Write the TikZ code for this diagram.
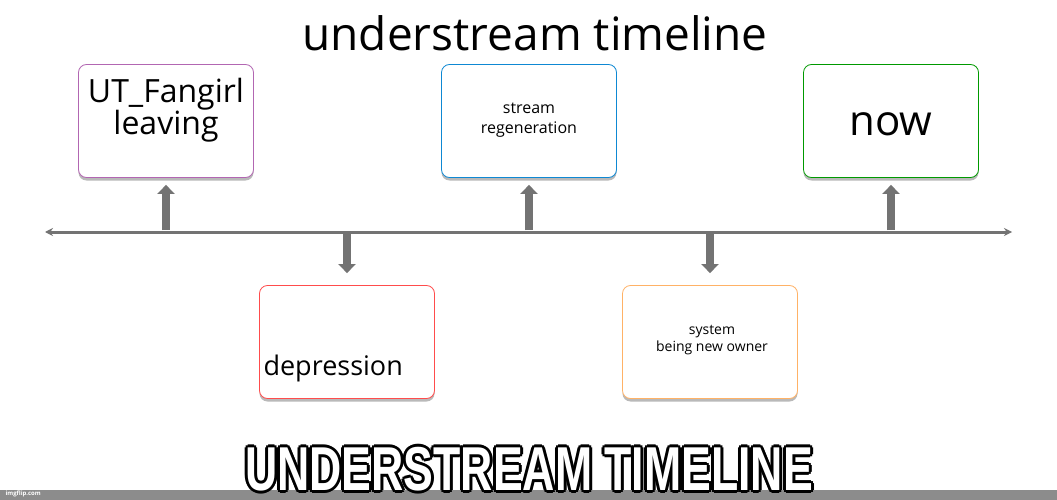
\documentclass[tikz,border=0pt]{standalone}
\usepackage{fontspec}
\setmainfont{Open Sans}
\newfontfamily\impactf{Liberation Sans}
\usetikzlibrary{arrows.meta}
\begin{document}
\begin{tikzpicture}[x=1pt,y=-1pt,
  ev/.style={draw=#1, line width=0.8pt, fill=white, rounded corners=8pt, minimum width=175pt, minimum height=113pt, inner sep=0pt},
  shadowbox/.style={fill=gray!55, rounded corners=8pt, minimum width=175pt, minimum height=113pt, inner sep=0pt},
  fat/.style={draw=gray!90!black, line width=8pt, -{Triangle[width=17pt,length=9pt]}},
  capfont/.style={font=\impactf\bfseries\fontsize{62}{62}\selectfont, inner sep=0pt, anchor=base}]
\useasboundingbox (0,0) rectangle (1057,500);
\fill[white] (0,0) rectangle (1057,500);
\fill[gray!90] (0,490) rectangle (1057,500);
\node[font=\fontsize{6}{6}\selectfont\bfseries, white, anchor=west] (wm) at (2,494) {imgflip.com};
\node[font=\fontsize{46}{46}\selectfont] (title) at (535,33) {understream timeline};
% timeline
\coordinate (L) at (45,232); \coordinate (R) at (1012,232);
\draw[gray!90!black, line width=3pt, {Stealth[length=8pt,width=8pt]}-{Stealth[length=8pt,width=8pt]}] (L) -- (R);
% boxes
\foreach \n/\x/\y/\c in {a/166/121/violet!60, b/529/121/cyan!70!blue, c/891/121/green!60!black, d/347/342/red!70, e/710/342/orange!60}{
  \node[shadowbox] at (\x,\y+3) {};
  \node[ev=\c] (\n) at (\x,\y) {};
}
\node[font=\fontsize{32}{32}\selectfont, align=center] (ta) at (166,110) {UT\_Fangirl\\leaving};
\node[font=\fontsize{16}{20}\selectfont, align=center] (tb) at (529,120) {stream\\regeneration};
\node[font=\fontsize{42}{42}\selectfont] (tc) at (891,124) {now};
\node[font=\fontsize{27}{27}\selectfont, anchor=west] (td) at (260,368) {depression};
\node[font=\fontsize{14}{17}\selectfont, align=center] (te) at (712,340) {system\\being new owner};
% connector arrows
\coordinate (pa) at (166,230); \coordinate (pb) at (529,230); \coordinate (pc) at (891,230);
\coordinate (pd) at (347,234); \coordinate (pe) at (710,234);
\draw[fat] (pa) -- ([yshift=-7pt]a.south);
\draw[fat] (pb) -- ([yshift=-7pt]b.south);
\draw[fat] (pc) -- ([yshift=-7pt]c.south);
\draw[fat] (pd) -- ([yshift=12pt]d.north);
\draw[fat] (pe) -- ([yshift=12pt]e.north);
% bottom caption
\foreach \dx/\dy in {-3/0,3/0,0/-3,0/3,-2/-2,2/2,-2/2,2/-2}{
  \node[capfont, black] at (529+\dx,490+\dy) {\scalebox{0.72}[1]{UNDERSTREAM TIMELINE}};
}
\node[capfont, white] (cap) at (529,490) {\scalebox{0.72}[1]{UNDERSTREAM TIMELINE}};
\end{tikzpicture}
\end{document}
